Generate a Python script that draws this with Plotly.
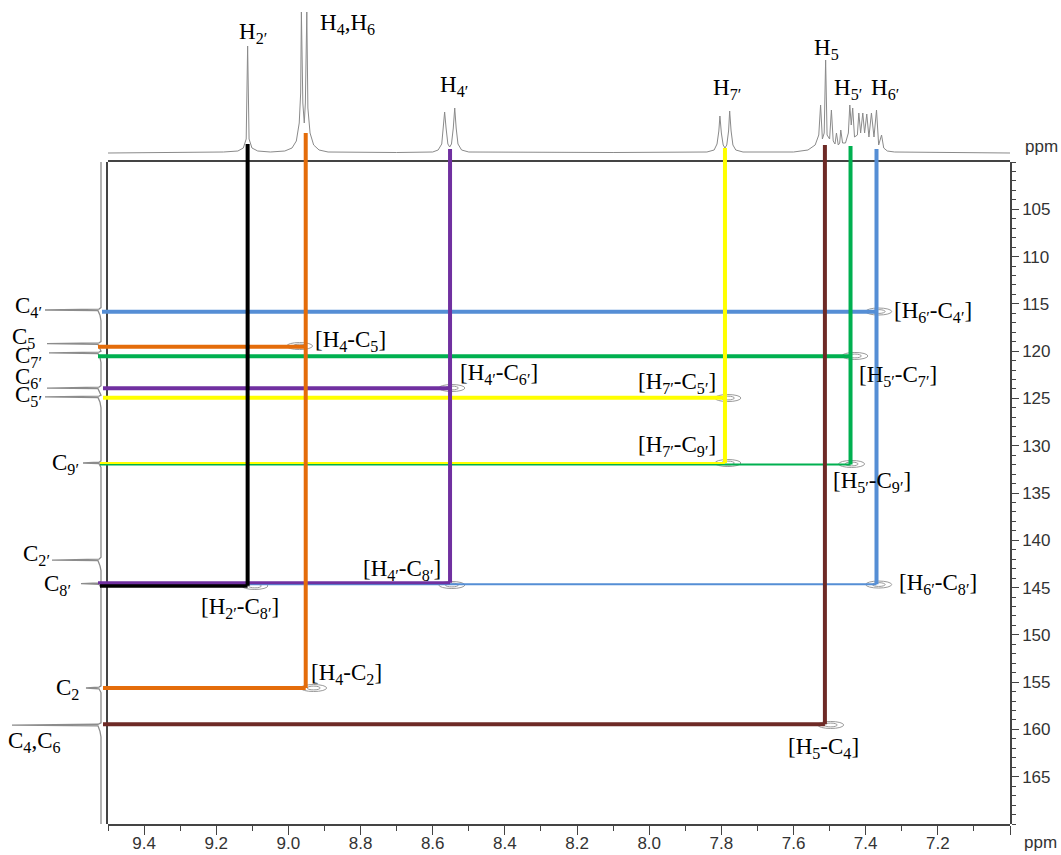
import plotly.graph_objects as go

# ================= DATA =================
# proton signals (ppm) used for the correlation lines
H_names = ["H2'", "H4", "H4'", "H7'", "H5", "H5'", "H6'"]
H_ppm = [9.113, 8.952, 8.552, 7.790, 7.513, 7.442, 7.370]
H_text = ["H<sub>2′</sub>", "H<sub>4</sub>,H<sub>6</sub>", "H<sub>4′</sub>", "H<sub>7′</sub>",
          "H<sub>5</sub>", "H<sub>5′</sub>", "H<sub>6′</sub>"]

# carbon signals (ppm)
C_names = ["C4'", "C5", "C7'", "C6'", "C5'", "C9'", "C2'", "C8'", "C2", "C4"]
C_ppm = [115.83, 119.53, 120.54, 123.93, 124.93, 131.90, 142.09, 144.65, 155.62, 159.44]
C_text = ["C<sub>4′</sub>", "C<sub>5</sub>", "C<sub>7′</sub>", "C<sub>6′</sub>", "C<sub>5′</sub>",
          "C<sub>9′</sub>", "C<sub>2′</sub>", "C<sub>8′</sub>", "C<sub>2</sub>", "C<sub>4</sub>,C<sub>6</sub>"]

# HMBC correlations
corr_H = ["H6'", "H4", "H5'", "H4'", "H7'", "H7'", "H5'", "H2'", "H4'", "H6'", "H4", "H5"]
corr_C = ["C4'", "C5", "C7'", "C6'", "C5'", "C9'", "C9'", "C8'", "C8'", "C8'", "C2", "C4"]
corr_text = ["[H<sub>6′</sub>-C<sub>4′</sub>]", "[H<sub>4</sub>-C<sub>5</sub>]", "[H<sub>5′</sub>-C<sub>7′</sub>]",
             "[H<sub>4′</sub>-C<sub>6′</sub>]", "[H<sub>7′</sub>-C<sub>5′</sub>]", "[H<sub>7′</sub>-C<sub>9′</sub>]",
             "[H<sub>5′</sub>-C<sub>9′</sub>]", "[H<sub>2′</sub>-C<sub>8′</sub>]", "[H<sub>4′</sub>-C<sub>8′</sub>]",
             "[H<sub>6′</sub>-C<sub>8′</sub>]", "[H<sub>4</sub>-C<sub>2</sub>]", "[H<sub>5</sub>-C<sub>4</sub>]"]

# cross-peak contour centres (1H ppm, 13C ppm)
cross_H_ppm = [7.364, 7.430, 7.782, 7.782, 7.439, 8.969, 8.547, 7.364, 8.547, 9.093, 8.930, 7.497]
cross_C_ppm = [115.81, 120.51, 124.96, 131.83, 131.93, 119.46, 123.90, 144.68, 144.73, 144.83, 155.62, 159.53]

# 1H spectrum (ppm, intensity)
H_spec_ppm = [9.50, 9.30, 9.18, 9.14, 9.125, 9.117, 9.113, 9.109, 9.101, 9.085, 9.05,
              9.01, 8.99, 8.978, 8.970, 8.966, 8.964, 8.960, 8.956, 8.953, 8.949, 8.946, 8.940, 8.930, 8.915, 8.89,
              8.70, 8.60, 8.585, 8.575, 8.570, 8.567, 8.563, 8.558, 8.553, 8.548, 8.543, 8.539, 8.535, 8.530, 8.52, 8.50,
              8.10, 7.84, 7.82, 7.812, 7.807, 7.804, 7.800, 7.795, 7.790, 7.785, 7.780, 7.777, 7.773, 7.768, 7.76, 7.74,
              7.60, 7.56, 7.54, 7.530, 7.525, 7.520, 7.515, 7.511, 7.507, 7.500, 7.495, 7.490, 7.485, 7.481, 7.476,
              7.472, 7.469, 7.464, 7.456, 7.448, 7.444, 7.440, 7.436, 7.431, 7.423, 7.419, 7.414, 7.408, 7.403,
              7.397, 7.391, 7.384, 7.377, 7.370, 7.364, 7.356, 7.350, 7.34, 7.32, 7.20, 7.00]
H_spec_int = [0, 0.5, 1, 2, 5, 14, 107, 14, 5, 2, 1,
              2, 5, 12, 30, 60, 141, 50, 30, 50, 141, 45, 20, 8, 3, 1,
              0.5, 1, 3, 9, 25, 41, 25, 9, 6, 9, 25, 45, 25, 9, 3, 1,
              0.5, 1, 3, 9, 22, 37, 20, 8, 5, 8, 22, 42, 22, 8, 3, 1,
              1, 3, 8, 18, 48, 14, 20, 93, 18, 14, 43, 12, 9, 20, 8,
              10, 23, 10, 10, 20, 48, 28, 45, 16, 18, 40, 20, 40, 20,
              39, 16, 40, 16, 43, 8, 18, 5, 2, 1, 0.5, 0]

# 13C spectrum (ppm, intensity)
C_spec_ppm = [100.0, 115.40, 115.55, 115.65, 115.72, 116.2, 116.8,
              119.00, 119.12, 119.21, 119.28, 119.7, 119.95,
              120.00, 120.10, 120.18, 120.25, 120.7, 121.2,
              123.65, 123.80, 123.90, 123.97, 124.4, 124.6,
              124.65, 124.75, 124.83, 124.90, 125.4, 126.0,
              131.60, 131.75, 131.83, 131.90, 132.3,
              141.80, 142.00, 142.09, 142.16, 142.7, 143.2,
              144.40, 144.50, 144.58, 144.65, 145.0,
              155.40, 155.52, 155.62, 155.70, 156.1,
              159.30, 159.45, 159.55, 159.62, 160.2, 160.8, 170.0]
C_spec_int = [0, 0, 2, 56, 3, 1, 0,
              0, 2, 54, 3, 1, 0,
              0, 2, 52, 3, 1, 0,
              0, 2, 54, 3, 1, 0,
              0, 2, 56, 3, 1, 0,
              0, 2, 18, 2, 0,
              0, 2, 49, 3, 1, 0,
              0, 2, 20, 2, 0,
              0, 2, 15, 2, 0,
              0, 3, 89, 3, 1, 0, 0]

# axis ticks
x_tickvals = [9.4, 9.2, 9.0, 8.8, 8.6, 8.4, 8.2, 8.0, 7.8, 7.6, 7.4, 7.2, 7.0]
x_ticktext = ["9.4", "9.2", "9.0", "8.8", "8.6", "8.4", "8.2", "8.0", "7.8", "7.6", "7.4", "7.2", ""]
y_tickvals = [105, 110, 115, 120, 125, 130, 135, 140, 145, 150, 155, 160, 165]
y_ticktext = ["105", "110", "115", "120", "125", "130", "135", "140", "145", "150", "155", "160", "165"]

# ================= STYLE / LAYOUT GEOMETRY =================
W, H = 1061, 855
ML, MR, MT, MB = 5, 51, 8, 31
PW, PH = W - ML - MR, H - MT - MB
FL, FR, FT, FB = 108, 1010, 162, 824          # frame in pixels
X_RANGE = [9.5, 7.0]
Y_RANGE = [170, 100]
BASE_PX = 153                                  # 1H baseline pixel row
CBASE_PX = 101                                 # 13C baseline pixel column

H_colors = ["#000000", "#E46C0A", "#7030A0", "#FFFF00", "#6E2A26", "#00B050", "#558ED5"]
H_top_int = [9, 20, 4, 5, 8, 7, 4]              # where vertical lines meet 1H trace
H_label_dx = [5, 12, 4, 2, 2, -3, 8]
H_label_py = [33, 24, 86, 89, 49, 89, 89]
H_label_anchor = ["center", "left", "center", "center", "center", "center", "center"]

C_label_right_px = [44, 37, 44, 44, 44, 81, 52, 73, 81, 63]
C_label_dy = [5, 9, -1, 10, 2, 0, 5, -1, -1, -18]

corr_width = [4, 4, 4, 4, 4, 2, 2, 4, 3, 2, 4, 4]
corr_off_px = [0, 0, 0, 0, 0, -0.8, 0.8, 1.5, -1.5, 0, 0, 0]
corr_start_px = [102, 98, 98, 103, 103, 100, 100, 100, 98, 100, 103, 103]
corr_anchor = ["left", "left", "left", "left", "right", "right", "center", "center", "right", "left", "left", "center"]
corr_dx = [15, 7, 6, 8, -7, -7, 21, -8, -7, 20, 3, -1]
corr_dy = [0, 6, -20, 14, 15, 18, -18, -24, 14, 0, 14, -24]
draw_order = [9, 6, 5, 0, 1, 2, 3, 4, 7, 8, 10, 11]


def x_of_px(px):
    return X_RANGE[0] + (px - FL) * (X_RANGE[1] - X_RANGE[0]) / (FR - FL)


def y_of_px(py):
    return Y_RANGE[1] + (py - FT) * (Y_RANGE[0] - Y_RANGE[1]) / (FB - FT)


def paper_x(px):
    return (px - ML) / PW


def paper_y(py):
    return (H - MB - py) / PH


PPM_PER_PX_Y = (Y_RANGE[0] - Y_RANGE[1]) / (FB - FT)

SERIF = "Liberation Serif"
SANS = "Liberation Sans"
LBL = dict(family=SERIF, size=23, color="#000000")
TICKF = dict(family=SANS, size=17, color="#333333")

fig = go.Figure()

# 1H spectrum (top)
fig.add_trace(go.Scatter(x=H_spec_ppm, y=H_spec_int, xaxis="x", yaxis="y2", mode="lines",
                         line=dict(color="#8a8a8a", width=1), hoverinfo="skip", showlegend=False))
# 13C spectrum (left)
fig.add_trace(go.Scatter(x=C_spec_int, y=C_spec_ppm, xaxis="x3", yaxis="y", mode="lines",
                         line=dict(color="#8c8c8c", width=1.3), hoverinfo="skip", showlegend=False))

hmap = dict(zip(H_names, H_ppm))
cmap = dict(zip(C_names, C_ppm))
hcol = dict(zip(H_names, H_colors))

# horizontal correlation lines
for i in draw_order:
    h = hmap[corr_H[i]]
    c = cmap[corr_C[i]] + corr_off_px[i] * PPM_PER_PX_Y
    fig.add_trace(go.Scatter(x=[x_of_px(corr_start_px[i]), h], y=[c, c], xaxis="x4", yaxis="y4",
                             mode="lines", line=dict(color=hcol[corr_H[i]], width=corr_width[i]),
                             hoverinfo="skip", showlegend=False))

# vertical correlation lines
for k, name in enumerate(H_names):
    idx = [i for i in range(len(corr_H)) if corr_H[i] == name]
    deepest = max(idx, key=lambda i: cmap[corr_C[i]])
    bottom = cmap[corr_C[deepest]] + corr_off_px[deepest] * PPM_PER_PX_Y
    top = y_of_px(BASE_PX - H_top_int[k])
    fig.add_trace(go.Scatter(x=[H_ppm[k], H_ppm[k]], y=[bottom, top], xaxis="x4", yaxis="y4",
                             mode="lines", line=dict(color=H_colors[k], width=4),
                             hoverinfo="skip", showlegend=False))

# cross-peak contours
shapes = []
for hx, cy in zip(cross_H_ppm, cross_C_ppm):
    for hw, vh in [(0.036, 0.37), (0.018, 0.2)]:
        shapes.append(dict(type="circle", xref="x", yref="y", x0=hx - hw, x1=hx + hw,
                           y0=cy - vh, y1=cy + vh, line=dict(color="#9a9a9a", width=1), layer="below"))

annotations = []
for k in range(len(H_names)):
    annotations.append(dict(x=H_ppm[k], y=y_of_px(H_label_py[k]), xref="x4", yref="y4", text=H_text[k],
                            showarrow=False, xanchor=H_label_anchor[k], yanchor="middle",
                            xshift=H_label_dx[k], font=LBL))
for k in range(len(C_names)):
    annotations.append(dict(x=x_of_px(C_label_right_px[k]), y=C_ppm[k], xref="x4", yref="y4", text=C_text[k],
                            showarrow=False, xanchor="right", yanchor="middle",
                            yshift=C_label_dy[k], font=LBL))
for i in range(len(corr_text)):
    annotations.append(dict(x=hmap[corr_H[i]], y=cmap[corr_C[i]], xref="x4", yref="y4", text=corr_text[i],
                            showarrow=False, xanchor=corr_anchor[i], yanchor="middle",
                            xshift=corr_dx[i], yshift=corr_dy[i], font=LBL))
# ppm unit labels
annotations.append(dict(x=paper_x(1041), y=paper_y(147), xref="paper", yref="paper", text="ppm",
                        showarrow=False, xanchor="center", yanchor="middle", font=TICKF))
annotations.append(dict(x=paper_x(1040), y=paper_y(843), xref="paper", yref="paper", text="ppm",
                        showarrow=False, xanchor="center", yanchor="middle", font=TICKF))

x_dom = [(FL - ML) / PW, (FR - ML) / PW]
y_dom = [(H - MB - FB) / PH, (H - MB - FT) / PH]

fig.update_layout(
    width=W, height=H, margin=dict(l=ML, r=MR, t=MT, b=MB),
    paper_bgcolor="white", plot_bgcolor="rgba(0,0,0,0)",
    showlegend=False,
    xaxis=dict(domain=x_dom, range=X_RANGE, anchor="y", showgrid=False, zeroline=False,
               showline=True, mirror=True, linecolor="#444444", linewidth=1.5,
               ticks="outside", ticklen=9, tickwidth=1.2, tickcolor="#444444",
               tickmode="array", tickvals=x_tickvals, ticktext=x_ticktext,
               ticklabelstandoff=-6, automargin=False,
               tickfont=TICKF,
               minor=dict(tick0=0, dtick=0.1, ticks="outside", ticklen=5, tickwidth=1.2, tickcolor="#444444")),
    yaxis=dict(domain=y_dom, range=Y_RANGE, anchor="x", side="right", showgrid=False, zeroline=False,
               showline=True, mirror=True, linecolor="#444444", linewidth=1.5,
               ticks="outside", ticklen=7, tickwidth=1.2, tickcolor="#444444",
               tickmode="array", tickvals=y_tickvals, ticktext=y_ticktext, automargin=False,
               tickfont=TICKF,
               minor=dict(tick0=0, dtick=1, ticks="outside", ticklen=4, tickwidth=1, tickcolor="#444444")),
    yaxis2=dict(domain=[y_dom[1], 1], range=[-(FT - BASE_PX), BASE_PX - MT], anchor="x", visible=False),
    xaxis3=dict(domain=[0, x_dom[0]], range=[CBASE_PX - ML, CBASE_PX - FL], anchor="y", visible=False),
    xaxis4=dict(domain=[0, 1], range=[x_of_px(ML), x_of_px(W - MR)], anchor="y4", visible=False),
    yaxis4=dict(domain=[0, 1], range=[y_of_px(H - MB), y_of_px(MT)], anchor="x4", visible=False),
    shapes=shapes,
    annotations=annotations,
)

fig.write_html("out.html",
               config={"displayModeBar": False},
               post_script="document.body.style.margin='0px';document.body.style.padding='0px';"
                           "document.body.style.overflow='hidden';")
